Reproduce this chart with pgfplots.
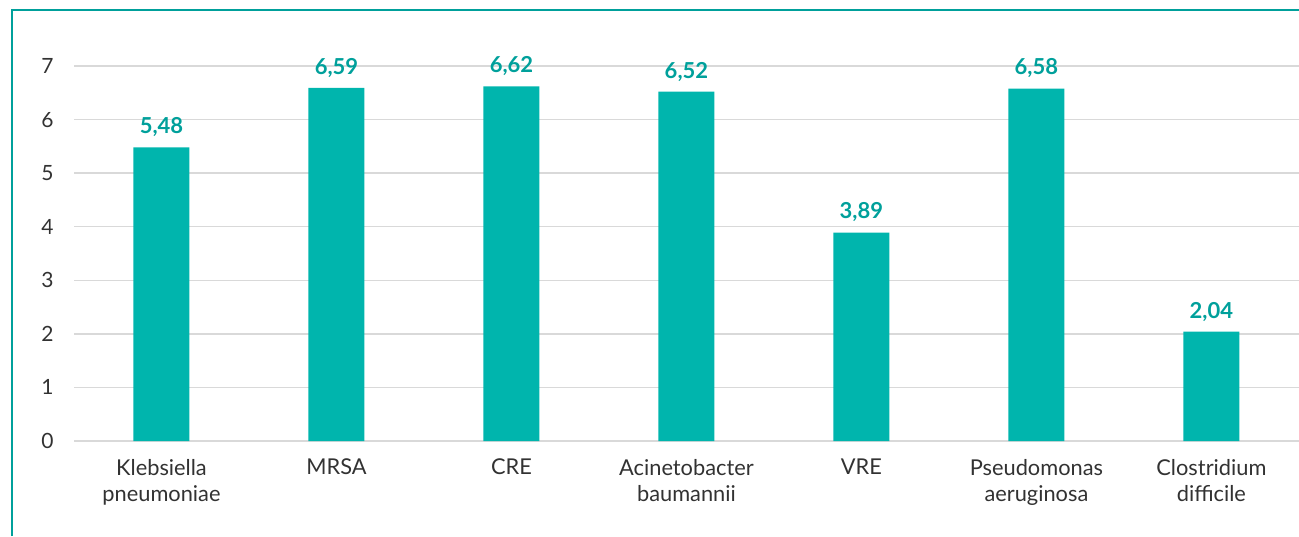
\documentclass[border=0pt]{standalone}
\usepackage{pgfplots}
\pgfplotsset{compat=1.18}
\usepackage{fontspec}
\setmainfont{Lato}
\definecolor{barc}{RGB}{0,181,173}
\definecolor{labc}{RGB}{0,160,155}
\definecolor{framec}{RGB}{0,160,155}
\definecolor{gridc}{RGB}{217,217,217}
\definecolor{txtc}{RGB}{50,50,50}
\begin{document}
\begin{tikzpicture}
\path[use as bounding box] (0pt,0pt) rectangle (1299pt,536pt);
\draw[framec, line width=2.5pt] (12pt,0pt) -- (12pt,526pt) -- (1299pt,526pt);
\begin{axis}[
  at={(74pt,95pt)}, anchor=south west,
  scale only axis, width=1225pt, height=375pt,
  xmin=-0.5, xmax=6.5, ymin=0, ymax=7,
  clip=false,
  ybar, bar width=56pt,
  axis line style={draw=none},
  major tick length=0pt,
  ymajorgrids, grid style={gridc, line width=1.5pt},
  ytick={0,1,2,3,4,5,6,7},
  xtick=data,
  xticklabels={{Klebsiella\\pneumoniae},MRSA,CRE,{Acinetobacter\\baumannii},VRE,{Pseudomonas\\aeruginosa},{Clostridium\\difficile}},
  xticklabel style={align=center, text=txtc, font=\fontsize{21.8}{26}\selectfont, yshift=-14.5pt},
  yticklabel style={text=txtc, font=\fontsize{21}{24}\selectfont, xshift=-17pt},
  /pgf/number format/assume math mode=true,
  nodes near coords,
  every node near coord/.append style={text=labc, font=\fontsize{22}{26}\selectfont\bfseries, yshift=7pt,
    /pgf/number format/.cd, fixed, precision=2, fixed zerofill, use comma, assume math mode=true},
]
\addplot[fill=barc, draw=none] coordinates {(0,5.48) (1,6.59) (2,6.62) (3,6.52) (4,3.89) (5,6.58) (6,2.04)};
\end{axis}
\end{tikzpicture}
\end{document}
